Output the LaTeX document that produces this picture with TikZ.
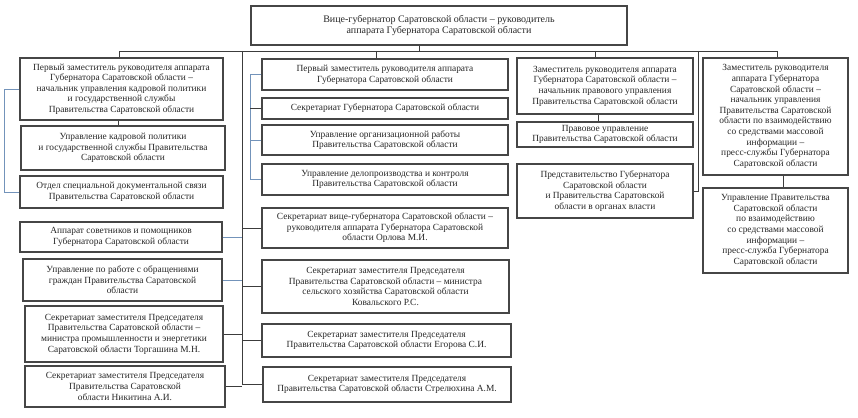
\documentclass[tikz,border=0pt]{standalone}
\usepackage{fontspec}
\setmainfont{Liberation Serif}
\usepackage{xcolor}
\usepackage{tikz}
\definecolor{boxline}{HTML}{464646}
\definecolor{darkline}{HTML}{3C3C3C}
\definecolor{blueline}{HTML}{7393BA}

\begin{document}
\begin{tikzpicture}[x=1pt, y=-1pt,
  box/.style={rectangle, draw=boxline, line width=1.1pt, align=center, inner sep=0pt,
    text=black!85, font=\fontsize{9.4}{10.6}\selectfont},
  link/.style={draw=darkline, line width=0.9pt},
  blue link/.style={draw=blueline, line width=0.9pt}]
 \useasboundingbox (0,0) rectangle (858,417);
 % top
 \node [box, minimum width=376, minimum height=39, font=\fontsize{10}{11.5}\selectfont] (V) at (439, 25.5)
   {Вице-губернатор Саратовской области – руководитель\\аппарата Губернатора Саратовской области};
 % left column
 \node [box, minimum width=203, minimum height=62] (A1) at (121.5, 89)
   {Первый заместитель руководителя аппарата\\Губернатора Саратовской области –\\начальник управления кадровой политики\\и государственной службы\\Правительства Саратовской области};
 \node [box, minimum width=204, minimum height=44] (A2) at (123, 148)
   {Управление кадровой политики\\и государственной службы Правительства\\Саратовской области};
 \node [box, minimum width=203, minimum height=32] (A3) at (121.5, 192)
   {Отдел специальной документальной связи\\Правительства Саратовской области};
 \node [box, minimum width=202, minimum height=30] (A4) at (121, 237)
   {Аппарат советников и помощников\\Губернатора Саратовской области};
 \node [box, minimum width=199, minimum height=42] (A5) at (122.5, 280)
   {Управление по работе с обращениями\\граждан Правительства Саратовской\\области};
 \node [box, minimum width=198, minimum height=56] (A6) at (124, 334)
   {Секретариат заместителя Председателя\\Правительства Саратовской области –\\министра промышленности и энергетики\\Саратовской области Торгашина М.Н.};
 \node [box, minimum width=200, minimum height=41] (A7) at (125, 386.5)
   {Секретариат заместителя Председателя\\Правительства Саратовской\\области Никитина А.И.};
 % second column
 \node [box, minimum width=246, minimum height=31] (B1) at (385, 74.5)
   {Первый заместитель руководителя аппарата\\Губернатора Саратовской области};
 \node [box, minimum width=246, minimum height=21] (B2) at (385, 108.5)
   {Секретариат Губернатора Саратовской области};
 \node [box, minimum width=246, minimum height=30] (B3) at (385, 140)
   {Управление организационной работы\\Правительства Саратовской области};
 \node [box, minimum width=246, minimum height=31] (B4) at (385, 179.5)
   {Управление делопроизводства и контроля\\Правительства Саратовской области};
 \node [box, minimum width=246, minimum height=40] (B5) at (385, 228)
   {Секретариат вице-губернатора Саратовской области –\\руководителя аппарата Губернатора Саратовской\\области Орлова М.И.};
 \node [box, minimum width=247, minimum height=53] (B6) at (385.5, 286.5)
   {Секретариат заместителя Председателя\\Правительства Саратовской области – министра\\сельского хозяйства Саратовской области\\Ковальского Р.С.};
 \node [box, minimum width=249, minimum height=33] (B7) at (386.5, 340.5)
   {Секретариат заместителя Председателя\\Правительства Саратовской области Егорова С.И.};
 \node [box, minimum width=248, minimum height=35] (B8) at (387, 384.5)
   {Секретариат заместителя Председателя\\Правительства Саратовской области Стрелюхина А.М.};
 % third column
 \node [box, minimum width=176, minimum height=56] (C1) at (605, 86)
   {Заместитель руководителя аппарата\\Губернатора Саратовской области –\\начальник правового управления\\Правительства Саратовской области};
 \node [box, minimum width=176, minimum height=25] (C2) at (605, 134.5)
   {Правовое управление\\Правительства Саратовской области};
 \node [box, minimum width=176, minimum height=54] (C3) at (605, 191)
   {Представительство Губернатора\\Саратовской области\\и Правительства Саратовской\\области в органах власти};
 % fourth column
 \node [box, minimum width=145, minimum height=117] (D1) at (775.5, 116.5)
   {Заместитель руководителя\\аппарата Губернатора\\Саратовской области –\\начальник управления\\Правительства Саратовской\\области по взаимодействию\\со средствами массовой\\информации –\\пресс-службы Губернатора\\Саратовской области};
 \node [box, minimum width=145, minimum height=85] (D2) at (775.5, 230.5)
   {Управление Правительства\\Саратовской области\\по взаимодействию\\со средствами массовой\\информации –\\пресс-служба Губернатора\\Саратовской области};
 % bus
 \coordinate (T) at (419, 51);
 \coordinate (BL) at (119, 51);
 \coordinate (BR) at (777, 51);
 \coordinate (S) at (242, 51);
 \coordinate (J2) at (376, 51);
 \coordinate (J3) at (595, 51);
 \coordinate (K) at (698, 51);
 \draw [link] (T |- V.south) to (T);
 \draw [link] (BL) to (BR);
 \draw [link] (BL) to (BL |- A1.north);
 \draw [link] (J2) to (J2 |- B1.north);
 \draw [link] (J3) to (J3 |- C1.north);
 \draw [link] (BR) to (BR |- D1.north);
 \draw [link] (K) |- (C3.east);
 % chains
 \draw [link] ([xshift=-3.5]A1.south) to ([xshift=-3.5]A1.south |- A2.north);
 \draw [link] ([xshift=-7]C1.south) to ([xshift=-7]C1.south |- C2.north);
 \draw [link] ([xshift=7.5]D1.south) to ([xshift=7.5]D1.south |- D2.north);
 % spine
 \draw [link] (S) to (S |- B8.west);
 \foreach \n in {B5, B6, B7, B8} \draw [link] (\n.west) to (\n.west -| S);
 \foreach \n in {A6, A7} \draw [link] (\n.east) to (\n.east -| S);
 \foreach \n in {A4, A5} \draw [blue link] (\n.east) to (\n.east -| S);
 % brackets
 \draw [blue link] (A1.west) -- ++(-15, 0) |- (A3.west);
 \draw [blue link] (B1.west) -- ++(-11, 0) |- (B4.west);
 \draw [link] (B2.west) -- ++(-11, 0);
 \draw [blue link] (B3.west) -- ++(-11, 0);
\end{tikzpicture}
\end{document}
